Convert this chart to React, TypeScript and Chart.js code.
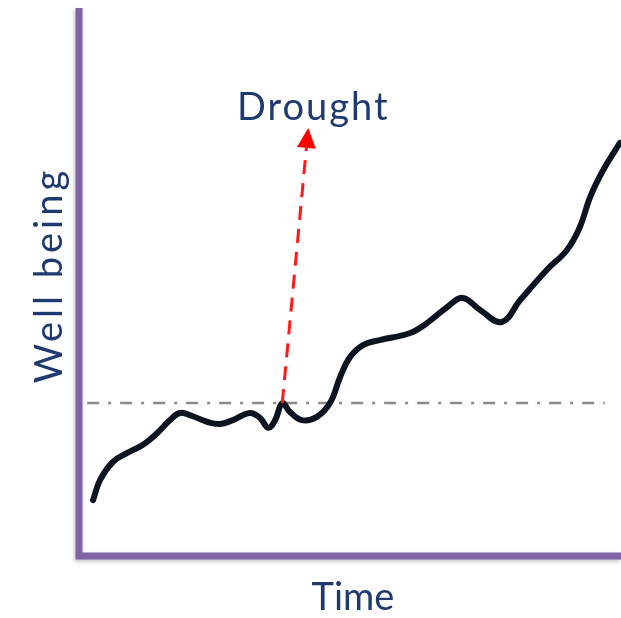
import React, { useEffect, useRef } from "react";
import { Chart, registerables } from "chart.js";

Chart.register(...registerables);

// Time axis (0-100) and well-being values (0-100)
const timeValues = [
  2.6, 3.9, 6.3, 8.9, 11.8, 14.4, 16.8, 18.6, 21.0, 23.6, 26.0, 28.4, 31.5, 33.4, 34.9, 36.2,
  37.5, 38.9, 41.1, 43.9, 46.3, 48.2, 50.0, 52.4, 55.5, 61.1, 64.2, 67.9, 70.8, 74.0, 78.0,
  81.4, 86.3, 90.0, 92.4, 94.3, 96.7, 99.8,
];
const wellBeing = [
  10.2, 13.9, 17.2, 18.8, 20.3, 22.4, 24.8, 26.1, 25.5, 24.5, 24.1, 24.8, 26.1, 25.2, 23.4, 24.8,
  27.9, 26.3, 24.8, 25.4, 27.9, 32.7, 36.3, 38.5, 39.4, 40.7, 42.5, 45.4, 47.1, 44.9, 42.7,
  46.7, 52.2, 55.8, 60.0, 65.5, 70.4, 75.4,
];

// Reference (pre-drought) level
const refX = [1.5, 97];
const refY = [27.9, 27.9];

// Drought arrow: from the curve point up to the label
const arrowFrom = [37.5, 27.9];
const arrowTo = [42.3, 78.1];

const xTitle = "Time";
const yTitle = "Well being";
const eventLabel = "Drought";

const AXIS_COLOR = "#8064a8";
const TEXT_COLOR = "#1f3a70";
const FONT = "Lato, 'Open Sans', sans-serif";

const decorPlugin = {
  id: "decor",
  beforeDatasetsDraw(chart: any) {
    const { ctx, chartArea } = chart;
    const { left, right, top, bottom } = chartArea;
    ctx.save();
    ctx.strokeStyle = AXIS_COLOR;
    ctx.lineWidth = 7;
    ctx.lineCap = "butt";
    ctx.lineJoin = "miter";
    ctx.shadowColor = "rgba(0,0,0,0.25)";
    ctx.shadowBlur = 4;
    ctx.shadowOffsetX = -1;
    ctx.shadowOffsetY = 2;
    ctx.beginPath();
    ctx.moveTo(left, top);
    ctx.lineTo(left, bottom);
    ctx.lineTo(right, bottom);
    ctx.stroke();
    ctx.restore();
  },
  afterDatasetsDraw(chart: any) {
    const { ctx, chartArea, scales } = chart;
    const xs = scales.x;
    const ys = scales.y;
    ctx.save();
    // arrow
    const x0 = xs.getPixelForValue(arrowFrom[0]);
    const y0 = ys.getPixelForValue(arrowFrom[1]);
    const x1 = xs.getPixelForValue(arrowTo[0]);
    const y1 = ys.getPixelForValue(arrowTo[1]);
    const dx = x1 - x0;
    const dy = y1 - y0;
    const len = Math.hypot(dx, dy);
    const ux = dx / len;
    const uy = dy / len;
    const headLen = 20;
    const headHalf = 9.5;
    const bx = x1 - ux * headLen;
    const by = y1 - uy * headLen;
    ctx.strokeStyle = "#ff1a1a";
    ctx.lineWidth = 3;
    ctx.setLineDash([14, 9]);
    ctx.beginPath();
    ctx.moveTo(x0, y0);
    ctx.lineTo(bx, by);
    ctx.stroke();
    ctx.setLineDash([]);
    ctx.fillStyle = "#ff0000";
    ctx.beginPath();
    ctx.moveTo(x1, y1);
    ctx.lineTo(bx - uy * headHalf, by + ux * headHalf);
    ctx.lineTo(bx + uy * headHalf, by - ux * headHalf);
    ctx.closePath();
    ctx.fill();

    // texts
    ctx.fillStyle = TEXT_COLOR;
    ctx.font = `38px ${FONT}`;
    ctx.textAlign = "center";
    ctx.textBaseline = "alphabetic";
    ctx.letterSpacing = "2px";
    ctx.fillText(eventLabel, x1 + 5, y1 - 8);

    ctx.letterSpacing = "0px";
    ctx.fillText(xTitle, (chartArea.left + chartArea.right) / 2 + 3, chartArea.bottom + 54);

    ctx.letterSpacing = "4px";
    ctx.translate(chartArea.left - 17, (chartArea.top + chartArea.bottom) / 2 - 7);
    ctx.rotate(-Math.PI / 2);
    ctx.fillText(yTitle, 0, 0);
    ctx.restore();
  },
};

export default function App() {
  const ref = useRef<HTMLCanvasElement | null>(null);
  useEffect(() => {
    if (!ref.current) return;
    const chart = new Chart(ref.current, {
      type: "line",
      data: {
        datasets: [
          {
            label: "Well being",
            data: timeValues.map((t, i) => ({ x: t, y: wellBeing[i] })),
            borderColor: "#0b1420",
            borderWidth: 6,
            tension: 0.4,
            pointRadius: 0,
            fill: false,
            borderCapStyle: "round",
            borderJoinStyle: "round",
          },
          {
            label: "Reference",
            data: refX.map((t, i) => ({ x: t, y: refY[i] })),
            borderColor: "#8a8a8a",
            borderWidth: 2.5,
            borderDash: [12, 9, 3, 9],
            pointRadius: 0,
            fill: false,
          },
        ],
      },
      options: {
        animation: false,
        responsive: false,
        layout: { padding: { left: 79, top: 8, right: 0, bottom: 62 } },
        plugins: { legend: { display: false }, tooltip: { enabled: false } },
        scales: {
          x: { type: "linear", min: 0, max: 100, display: false },
          y: { type: "linear", min: 0, max: 100, display: false },
        },
      },
      plugins: [decorPlugin],
    } as any);
    return () => chart.destroy();
  }, []);
  return (
    <div style={{ position: "fixed", left: 0, top: 0, width: 621, height: 618, background: "#fff" }}>
      <canvas ref={ref} width={621} height={618} />
    </div>
  );
}
